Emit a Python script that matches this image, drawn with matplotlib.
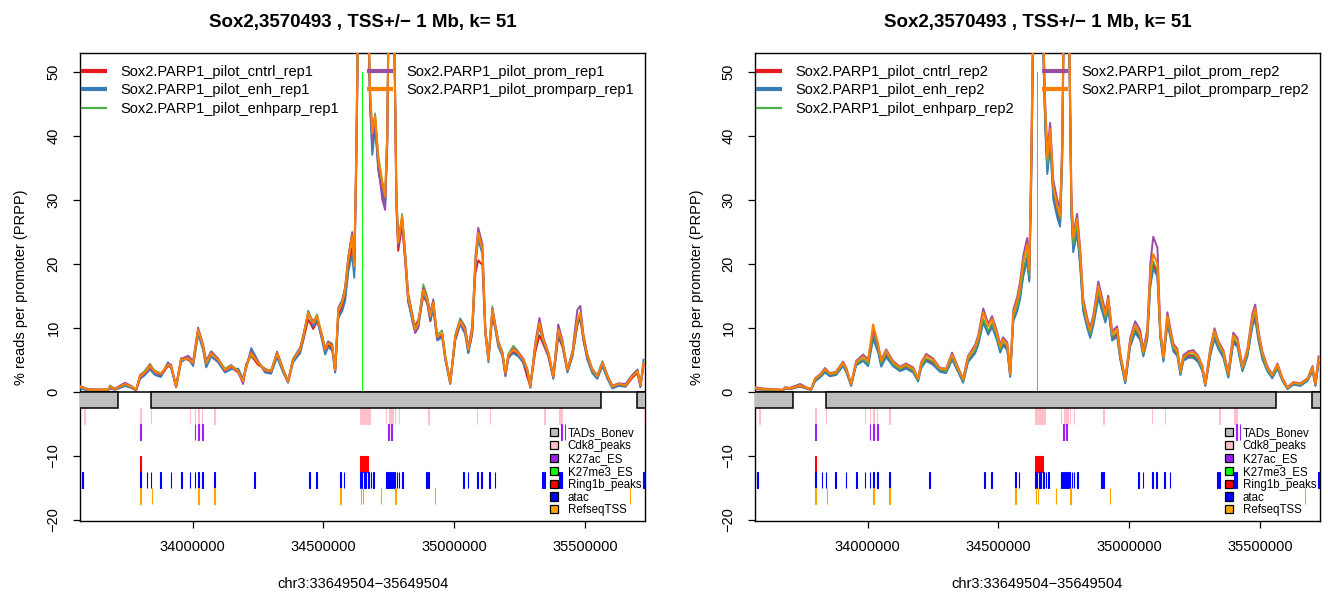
import matplotlib
matplotlib.use("Agg")
import matplotlib.pyplot as plt
from matplotlib.patches import Rectangle, Patch
from matplotlib.lines import Line2D
import numpy as np

plt.rcParams['font.family'] = ['Liberation Sans', 'DejaVu Sans']

# ---------------- data ----------------
title = "Sox2,3570493 , TSS+/\u2212 1 Mb, k= 51"
xlabel = "chr3:33649504\u221235649504"
ylabel = "% reads per promoter (PRPP)"
tss_kb = 34649.5

pos_kb = [
    33570, 33600, 33677, 33684, 33703, 33742, 33765, 33784, 33799, 33818,
    33837, 33856, 33879, 33906, 33918, 33937, 33956, 33983, 34002, 34021,
    34040, 34052, 34071, 34097, 34124, 34147, 34174, 34193, 34205, 34224,
    34250, 34277, 34300, 34323, 34346, 34365, 34384, 34411, 34423, 34442,
    34461, 34476, 34495, 34507, 34518, 34534, 34545, 34557, 34572, 34583,
    34595, 34610, 34618, 34625, 34633, 34649, 34664, 34679, 34687, 34698,
    34710, 34725, 34736, 34744, 34752, 34767, 34779, 34786, 34801, 34813,
    34824, 34840, 34851, 34863, 34882, 34897, 34909, 34920, 34935, 34954,
    34966, 34985, 35004, 35023, 35042, 35054, 35069, 35081, 35092, 35108,
    35119, 35131, 35146, 35157, 35169, 35184, 35196, 35207, 35226, 35245,
    35264, 35280, 35291, 35310, 35326, 35341, 35360, 35379, 35398, 35414,
    35433, 35452, 35471, 35482, 35494, 35509, 35528, 35547, 35567, 35586,
    35605, 35628, 35655, 35682, 35701, 35712, 35724]

cntrl_rep1 = [
    0.6, 0.2, 0.2, 0.7, 0.3, 1.0, 0.7, 0.2, 2.6, 3.2,
    4.3, 3.0, 2.5, 4.0, 3.8, 0.9, 5.2, 5.0, 4.3, 9.2,
    6.8, 4.0, 6.2, 4.8, 3.5, 3.8, 3.0, 1.8, 4.3, 5.6,
    4.2, 3.6, 3.0, 5.7, 3.2, 1.8, 4.8, 6.2, 8.0, 11.3,
    9.8, 11.0, 8.9, 6.2, 7.3, 6.8, 3.2, 12.0, 13.2, 14.8,
    19.0, 22.5, 18.9, 34, 58, 72, 68, 45.0, 38.5, 42,
    35.0, 31.5, 29.8, 39, 68, 68, 29.0, 22.0, 26.0, 20.2,
    14.0, 11.5, 10.3, 11.2, 15.0, 13.8, 11.0, 13.2, 8.3, 8.8,
    5.2, 1.5, 8.0, 10.5, 9.2, 6.2, 9.0, 18.5, 20.5, 19.8,
    9.0, 5.2, 11.8, 10.0, 7.2, 6.2, 2.6, 5.2, 6.2, 5.8,
    4.5, 2.2, 0.9, 6.2, 8.8, 7.4, 5.5, 2.2, 8.6, 7.0,
    3.2, 5.6, 10.4, 11.5, 8.0, 5.3, 3.1, 2.3, 4.2, 2.2,
    0.6, 1.0, 0.8, 2.2, 2.9, 0.8, 4.0]
enh_rep1 = [
    0.5, 0.2, 0.2, 0.5, 0.3, 0.9, 0.6, 0.2, 2.0, 2.6,
    3.5, 2.6, 2.3, 4.6, 3.6, 0.7, 4.6, 5.4, 4.0, 9.0,
    6.6, 3.8, 5.5, 4.6, 3.0, 3.5, 3.6, 2.0, 3.6, 6.8,
    4.8, 3.0, 2.8, 5.4, 3.0, 1.4, 4.6, 6.0, 8.2, 12.6,
    10.2, 11.2, 8.0, 5.8, 7.0, 6.4, 3.0, 11.5, 12.6, 14.2,
    18.8, 21.5, 17.8, 33, 57, 73, 69, 44.0, 37.0, 41.5,
    34.5, 31.0, 29.0, 38, 69, 69, 31.5, 23.8, 26.8, 20.5,
    14.5, 11.0, 9.2, 10.0, 15.2, 14.0, 11.2, 13.0, 8.0, 8.5,
    5.0, 1.2, 8.2, 10.6, 9.0, 6.0, 9.2, 19.5, 23.8, 21.5,
    9.4, 4.6, 12.2, 9.8, 7.0, 5.6, 2.4, 5.4, 6.0, 5.5,
    4.6, 3.0, 0.6, 6.8, 10.2, 7.8, 5.6, 2.0, 9.0, 7.2,
    3.0, 5.5, 10.6, 11.8, 8.2, 5.0, 2.9, 2.0, 4.0, 2.0,
    0.5, 0.9, 0.8, 2.6, 3.0, 0.7, 5.0]
enhparp_rep1 = [
    0.7, 0.3, 0.4, 1.0, 0.5, 1.1, 0.9, 0.3, 2.5, 3.3,
    4.2, 3.3, 2.9, 4.1, 3.9, 0.8, 4.9, 5.3, 4.6, 9.3,
    7.3, 4.3, 5.8, 5.2, 3.6, 4.2, 3.3, 1.7, 3.9, 5.7,
    4.6, 3.5, 3.4, 6.3, 3.6, 1.7, 5.2, 6.9, 8.9, 12.6,
    10.9, 12.1, 8.8, 6.9, 7.9, 7.5, 3.6, 13.2, 14.4, 16.5,
    21.0, 25.0, 20.0, 35, 60, 74, 71, 47.0, 41.0, 43.5,
    37.0, 33.0, 31.0, 41, 70, 70, 31.0, 23.5, 27.8, 21.8,
    15.5, 12.3, 10.0, 11.0, 16.8, 14.9, 12.1, 14.5, 8.9, 9.6,
    5.8, 1.6, 8.9, 11.5, 10.2, 6.8, 9.9, 20.3, 24.5, 22.0,
    10.2, 5.3, 13.4, 10.6, 7.9, 6.4, 3.1, 5.9, 7.2, 6.3,
    5.1, 3.6, 1.0, 7.5, 11.0, 8.3, 6.2, 2.7, 10.2, 7.8,
    3.6, 6.2, 11.0, 12.2, 8.8, 5.9, 3.6, 2.6, 4.8, 2.6,
    0.9, 1.3, 1.1, 2.7, 3.5, 1.2, 4.2]
prom_rep1 = [
    0.9, 0.4, 0.3, 0.7, 0.5, 1.4, 0.9, 0.3, 2.2, 2.8,
    3.8, 3.0, 2.7, 4.4, 4.2, 0.7, 5.1, 5.6, 4.8, 10.0,
    7.4, 4.8, 6.3, 5.2, 3.2, 4.1, 3.1, 1.2, 4.1, 6.3,
    4.6, 3.2, 3.1, 6.2, 3.5, 1.5, 5.1, 6.8, 8.8, 12.1,
    11.0, 11.6, 8.4, 6.5, 7.8, 7.3, 3.3, 13.0, 14.2, 16.2,
    21.0, 24.8, 20.2, 36, 61, 76, 71, 46.0, 39.0, 42.5,
    35.5, 30.0, 28.4, 40, 71, 71, 30.0, 22.8, 27.0, 21.6,
    15.2, 12.0, 9.2, 10.4, 16.2, 14.6, 12.3, 14.3, 8.4, 9.0,
    5.3, 1.3, 8.7, 11.2, 10.0, 6.9, 10.2, 21.0, 25.6, 23.0,
    10.0, 5.1, 13.0, 10.5, 7.8, 5.9, 2.7, 5.6, 6.8, 6.1,
    5.2, 3.4, 0.7, 7.6, 11.5, 8.4, 6.1, 2.3, 10.5, 8.0,
    3.3, 6.3, 12.8, 13.4, 9.0, 5.8, 3.5, 2.5, 4.6, 2.5,
    0.9, 1.3, 1.2, 2.6, 3.4, 1.1, 4.3]
promparp_rep1 = [
    0.8, 0.3, 0.3, 0.8, 0.4, 1.2, 0.8, 0.3, 2.4, 3.0,
    4.0, 3.1, 2.8, 4.2, 4.0, 0.8, 5.0, 5.2, 4.5, 9.7,
    7.1, 4.5, 6.0, 5.0, 3.4, 4.0, 3.2, 1.6, 4.0, 6.0,
    4.5, 3.4, 3.2, 6.0, 3.4, 1.6, 5.0, 6.6, 8.6, 12.3,
    10.7, 11.8, 8.6, 6.6, 7.6, 7.1, 3.4, 12.8, 13.9, 15.9,
    20.6, 24.3, 19.6, 35, 60, 75, 70, 46.7, 40.4, 43,
    36.3, 32.6, 30.5, 40, 70, 70, 30.5, 23.3, 27.4, 21.1,
    14.9, 11.8, 9.7, 10.7, 15.9, 14.4, 11.8, 13.9, 8.6, 9.1,
    5.5, 1.4, 8.6, 11.0, 9.7, 6.6, 9.7, 20.1, 24.8, 22.2,
    9.7, 5.0, 12.8, 10.3, 7.6, 6.0, 2.9, 5.7, 6.6, 6.0,
    5.0, 3.4, 0.8, 7.1, 10.7, 8.1, 6.0, 2.4, 9.7, 7.6,
    3.4, 6.0, 11.2, 12.3, 8.6, 5.7, 3.4, 2.4, 4.5, 2.4,
    0.8, 1.2, 1.0, 2.4, 3.2, 1.0, 4.5]

cntrl_rep2 = [
    0.4, 0.3, 0.2, 0.5, 0.4, 0.8, 0.5, 0.3, 1.8, 2.4,
    3.2, 2.5, 2.7, 4.2, 3.3, 1.0, 4.3, 5.0, 4.3, 8.8,
    6.6, 4.2, 5.8, 4.2, 3.4, 3.9, 3.2, 1.8, 4.0, 5.0,
    4.5, 3.3, 3.1, 5.2, 3.3, 1.6, 4.9, 6.3, 7.6, 11.2,
    9.2, 10.5, 8.3, 6.4, 7.5, 6.8, 2.5, 11.4, 13.0, 15.0,
    18.6, 21.0, 17.6, 32, 56, 71, 66, 42.0, 35.0, 39.5,
    31.0, 28.0, 26.5, 37, 66, 67, 28.5, 22.5, 25.5, 20.0,
    13.0, 10.3, 8.8, 10.8, 15.2, 13.0, 11.2, 13.5, 8.3, 9.0,
    5.2, 1.5, 7.4, 9.6, 8.4, 5.8, 8.4, 17.0, 19.8, 18.5,
    8.8, 5.0, 11.0, 9.0, 6.6, 5.9, 2.8, 5.0, 5.6, 5.6,
    4.9, 3.4, 1.0, 5.9, 8.6, 7.0, 5.6, 2.4, 8.0, 7.3,
    3.4, 5.8, 10.6, 11.8, 8.4, 5.4, 3.4, 2.3, 3.8, 1.8,
    0.5, 1.2, 1.0, 1.8, 3.4, 1.0, 4.6]
enh_rep2 = [
    0.5, 0.3, 0.2, 0.5, 0.4, 0.9, 0.5, 0.3, 1.6, 2.2,
    3.0, 2.4, 2.6, 4.0, 3.1, 0.9, 4.1, 4.8, 4.0, 8.2,
    6.2, 3.9, 5.4, 4.0, 3.2, 3.6, 3.0, 1.6, 3.7, 4.8,
    4.2, 3.1, 2.9, 5.0, 3.1, 1.4, 4.6, 6.0, 7.3, 10.8,
    8.9, 10.1, 8.0, 6.1, 7.2, 6.5, 2.3, 11.0, 12.6, 14.5,
    18.0, 20.5, 17.2, 31, 55, 70, 65, 41.0, 34.0, 38.5,
    30.0, 27.2, 25.8, 36, 65, 66, 27.8, 21.8, 24.8, 19.4,
    12.6, 9.9, 8.4, 10.3, 14.6, 12.5, 10.8, 13.0, 8.0, 8.6,
    5.0, 1.3, 7.1, 9.2, 8.1, 5.5, 8.1, 16.5, 19.2, 18.0,
    8.4, 4.7, 10.6, 8.6, 6.3, 5.6, 2.6, 4.8, 5.3, 5.3,
    4.6, 3.2, 0.9, 5.6, 8.2, 6.7, 5.3, 2.2, 7.6, 7.0,
    3.2, 5.5, 10.2, 11.3, 8.0, 5.1, 3.2, 2.1, 3.6, 1.7,
    0.4, 1.1, 0.9, 1.7, 3.2, 0.9, 4.4]
enhparp_rep2 = [
    0.5, 0.3, 0.3, 0.6, 0.5, 0.9, 0.6, 0.3, 1.9, 2.5,
    3.3, 2.7, 2.8, 4.3, 3.4, 1.1, 4.4, 5.1, 4.4, 9.0,
    6.8, 4.4, 6.0, 4.3, 3.5, 4.0, 3.3, 1.9, 4.1, 5.2,
    4.7, 3.4, 3.2, 5.4, 3.4, 1.7, 5.0, 6.5, 7.8, 11.4,
    9.5, 10.7, 8.5, 6.6, 7.7, 7.0, 2.6, 11.6, 13.3, 15.3,
    19.0, 21.6, 18.0, 33, 57, 72, 67, 42.5, 35.5, 40,
    31.5, 28.5, 27.0, 37, 67, 68, 29.0, 23.0, 26.0, 20.5,
    13.4, 10.6, 9.0, 11.0, 15.6, 13.4, 11.5, 13.9, 8.6, 9.3,
    5.4, 1.6, 7.6, 9.9, 8.6, 5.9, 8.6, 17.5, 20.4, 19.0,
    9.0, 5.1, 11.3, 9.2, 6.8, 6.1, 2.9, 5.1, 5.8, 5.8,
    5.1, 3.5, 1.1, 6.1, 8.9, 7.2, 5.8, 2.5, 8.3, 7.5,
    3.5, 6.0, 10.9, 12.2, 8.6, 5.6, 3.5, 2.4, 3.9, 1.9,
    0.5, 1.3, 1.1, 1.9, 3.5, 1.1, 4.8]
prom_rep2 = [
    0.7, 0.5, 0.3, 0.7, 0.6, 1.2, 0.7, 0.4, 2.1, 2.7,
    3.7, 2.9, 3.1, 4.7, 3.8, 1.2, 4.8, 5.8, 5.0, 9.8,
    7.2, 5.0, 6.6, 4.8, 3.9, 4.4, 3.8, 2.1, 4.6, 5.9,
    5.2, 3.7, 3.6, 6.1, 3.8, 2.0, 5.6, 7.3, 8.8, 13.0,
    10.6, 11.8, 9.4, 7.3, 8.5, 7.7, 3.0, 12.8, 14.8, 17.2,
    21.2, 24.0, 19.8, 35, 59, 75, 69, 45.0, 37.5, 42,
    33.0, 30.0, 28.5, 39, 69, 70, 31.0, 24.5, 27.8, 22.2,
    14.6, 11.5, 10.0, 12.0, 17.2, 14.6, 12.5, 15.0, 9.4, 10.2,
    6.0, 1.9, 8.4, 11.0, 9.6, 6.6, 9.6, 20.0, 24.2, 22.5,
    9.8, 5.6, 12.4, 10.0, 7.5, 6.7, 3.3, 5.7, 6.3, 6.5,
    5.6, 4.0, 1.3, 6.8, 9.9, 7.9, 6.5, 2.9, 9.2, 8.4,
    4.0, 6.7, 12.2, 13.6, 9.6, 6.3, 4.0, 2.7, 4.4, 2.1,
    0.7, 1.5, 1.3, 2.1, 4.0, 1.3, 5.5]
promparp_rep2 = [
    0.6, 0.4, 0.3, 0.6, 0.5, 1.0, 0.6, 0.4, 2.0, 2.6,
    3.5, 2.8, 3.0, 4.5, 3.6, 1.2, 4.6, 5.5, 4.8, 10.5,
    7.5, 4.8, 6.4, 4.6, 3.8, 4.2, 3.6, 2.0, 4.4, 5.6,
    5.0, 3.6, 3.5, 5.8, 3.6, 1.9, 5.4, 7.0, 8.4, 12.4,
    10.2, 11.4, 9.0, 7.0, 8.2, 7.4, 2.8, 12.2, 14.2, 16.4,
    20.3, 23.0, 19.0, 34, 58, 74, 68, 44.0, 36.5, 41,
    32.0, 29.0, 27.5, 38, 68, 69, 30.0, 24.0, 27.0, 21.5,
    14.0, 11.0, 9.5, 11.5, 16.5, 14.0, 12.0, 14.5, 9.0, 9.8,
    5.8, 1.8, 8.0, 10.4, 9.0, 6.2, 9.0, 18.6, 21.5, 20.0,
    9.4, 5.4, 11.8, 9.6, 7.2, 6.4, 3.2, 5.4, 6.0, 6.2,
    5.4, 3.8, 1.2, 6.5, 9.5, 7.6, 6.2, 2.8, 8.8, 8.0,
    3.8, 6.4, 11.6, 13.0, 9.2, 6.0, 3.8, 2.6, 4.2, 2.0,
    0.6, 1.4, 1.2, 2.0, 3.8, 1.2, 5.2]

series_names = ["cntrl", "enh", "enhparp", "prom", "promparp"]
series_colors = ["#E41A1C", "#377EB8", "#4DAF4A", "#984EA3", "#FF7F00"]
rep1_values = [cntrl_rep1, enh_rep1, enhparp_rep1, prom_rep1, promparp_rep1]
rep2_values = [cntrl_rep2, enh_rep2, enhparp_rep2, prom_rep2, promparp_rep2]

# annotation tracks (kb): centres and widths
tad_start = [33400, 33841, 35698]
tad_end = [33715, 35560, 35900]
cdk8_pos = [33586, 33801, 33841, 33990, 34009, 34022, 34035, 34083, 34643, 34651,
            34659, 34667, 34675, 34740, 34752, 34760, 34766, 34773, 34789, 34902,
            35088, 35136, 35346, 35402, 35411, 35728]
cdk8_w = [1.5, 1.5, 1.5, 1.5, 1.5, 1.5, 1.5, 1.5, 4, 4,
          4, 4, 3, 1.5, 1.5, 3, 3, 1.5, 1.5, 1.5,
          1.5, 1.5, 1.5, 1.5, 1.5, 1.5]
k27ac_pos = [33801, 34009, 34022, 34038, 34749, 34762, 35411, 35424]
k27ac_w = [1.5, 2.5, 2.5, 2.5, 1.5, 4, 1.5, 1.5]
k27me3_pos = []
k27me3_w = []
ring1b_pos = [33801, 34654]
ring1b_w = [1.0, 30]
atac_pos = [33578, 33801, 33825, 33842, 33877, 33917, 33957, 33990, 34009, 34022,
            34038, 34083, 34237, 34447, 34474, 34565, 34579, 34645, 34658, 34672,
            34681, 34692, 34741, 34749, 34757, 34765, 34773, 34781, 34789, 34802,
            34894, 34902, 35035, 35052, 35088, 35104, 35136, 35155, 35338, 35346,
            35402, 35411, 35725]
atac_w = [4, 1.5, 1.5, 1.5, 1.5, 3, 3, 3, 3, 1.5,
          2, 3, 3, 1.5, 3, 1.5, 3, 8, 8, 6,
          1.5, 3, 1.5, 3, 3, 3, 3, 3, 2, 1.5,
          3, 1.5, 3, 1.5, 3, 3, 2, 1.5, 3, 1.5,
          1.5, 2, 4]
refseq_pos = [33801, 33845, 34022, 34083, 34565, 34644, 34652, 34721, 34776, 34926, 35672]
refseq_w = [1.5] * len(refseq_pos)

track_names = ["TADs_Bonev", "Cdk8_peaks", "K27ac_ES", "K27me3_ES", "Ring1b_peaks", "atac", "RefseqTSS"]
track_colors = ["#BEBEBE", "#FFC0CB", "#A020F0", "#00FF00", "#FF0000", "#0000FF", "#FFA500"]
track_pos = [cdk8_pos, k27ac_pos, k27me3_pos, ring1b_pos, atac_pos, refseq_pos]
track_w = [cdk8_w, k27ac_w, k27me3_w, ring1b_w, atac_w, refseq_w]

xticks = [34000000, 34500000, 35000000, 35500000]
yticks = [-20, -10, 0, 10, 20, 30, 40, 50]
xlim = (33569504, 35729504)
ylim = (-20.2, 52.9)
band = 2.5

# ---------------- figure ----------------
W, H = 1328, 594
fig = plt.figure(figsize=(W / 100, H / 100), dpi=100)
ax_l = fig.add_axes([80 / W, (H - 521) / H, 565 / W, 468 / H])
ax_r = fig.add_axes([755 / W, (H - 521) / H, 565 / W, 468 / H])

x_bp = np.array(pos_kb) * 1000.0


def draw_panel(ax, values, rep):
    lws = [1.4, 1.4, 1.1, 1.4, 1.5]
    for name, col, vals, lw in zip(series_names, series_colors, values, lws):
        ax.plot(x_bp, vals, color=col, lw=lw, solid_joinstyle='round', zorder=3)
    ax.axhline(0, color='black', lw=1.1, zorder=4)
    ax.plot([tss_kb * 1000, tss_kb * 1000], [0, 50], color='#00FF00', lw=0.7, zorder=2)

    # TADs
    for s, e in zip(tad_start, tad_end):
        ax.add_patch(Rectangle((s * 1000, -band), (e - s) * 1000, band,
                               facecolor=track_colors[0], edgecolor='black', lw=1.1, zorder=4))
    # other tracks
    for i, (ps, ws) in enumerate(zip(track_pos, track_w)):
        top = -band * (i + 1)
        col = track_colors[i + 1]
        for p, w in zip(ps, ws):
            ax.add_patch(Rectangle(((p - w / 2) * 1000, top - band), w * 1000, band,
                                   facecolor=col, edgecolor=col, lw=0.8, zorder=3))

    ax.set_xlim(*xlim)
    ax.set_ylim(*ylim)
    ax.set_xticks(xticks)
    ax.set_xticklabels([str(t) for t in xticks])
    ax.set_yticks(yticks)
    ax.set_yticklabels([str(t).replace('-', '\u2212') for t in yticks], rotation=90, va='center')
    ax.tick_params(axis='both', direction='out', length=5, width=0.9, labelsize=10.5, color='black')
    ax.tick_params(axis='x', pad=9)
    ax.tick_params(axis='y', pad=9)
    for sp in ax.spines.values():
        sp.set_linewidth(1.0)
    ax.set_title(title, fontsize=13.5, fontweight='bold', pad=19)
    ax.set_xlabel(xlabel, fontsize=10.5, labelpad=16)
    ax.set_ylabel(ylabel, fontsize=10.5, labelpad=13)

    # series legend
    lw_leg = [3.0, 3.0, 1.6, 3.0, 3.0]
    handles = [Line2D([0], [0], color=c, lw=l, solid_capstyle='butt') for c, l in zip(series_colors, lw_leg)]
    labels = ["Sox2.PARP1_pilot_%s_%s" % (n, rep) for n in series_names]
    leg1 = ax.legend(handles, labels, loc='upper left', bbox_to_anchor=(0.002, 0.974),
                     ncol=2, frameon=False, fontsize=10.5, borderpad=0, borderaxespad=0,
                     handlelength=1.8, handletextpad=0.9, columnspacing=1.9, labelspacing=0.29)
    ax.add_artist(leg1)

    # track legend
    th = [Patch(facecolor=c, edgecolor='black', lw=0.9) for c in track_colors]
    leg2 = ax.legend(th, track_names, loc='lower right', bbox_to_anchor=(0.993, 0.01),
                     frameon=False, fontsize=8.3, borderpad=0, borderaxespad=0,
                     handlelength=0.7, handleheight=0.7, handletextpad=0.85, labelspacing=0.07)
    leg2.set_zorder(6)


draw_panel(ax_l, rep1_values, "rep1")
draw_panel(ax_r, rep2_values, "rep2")

fig.savefig("out.png", dpi=100)
